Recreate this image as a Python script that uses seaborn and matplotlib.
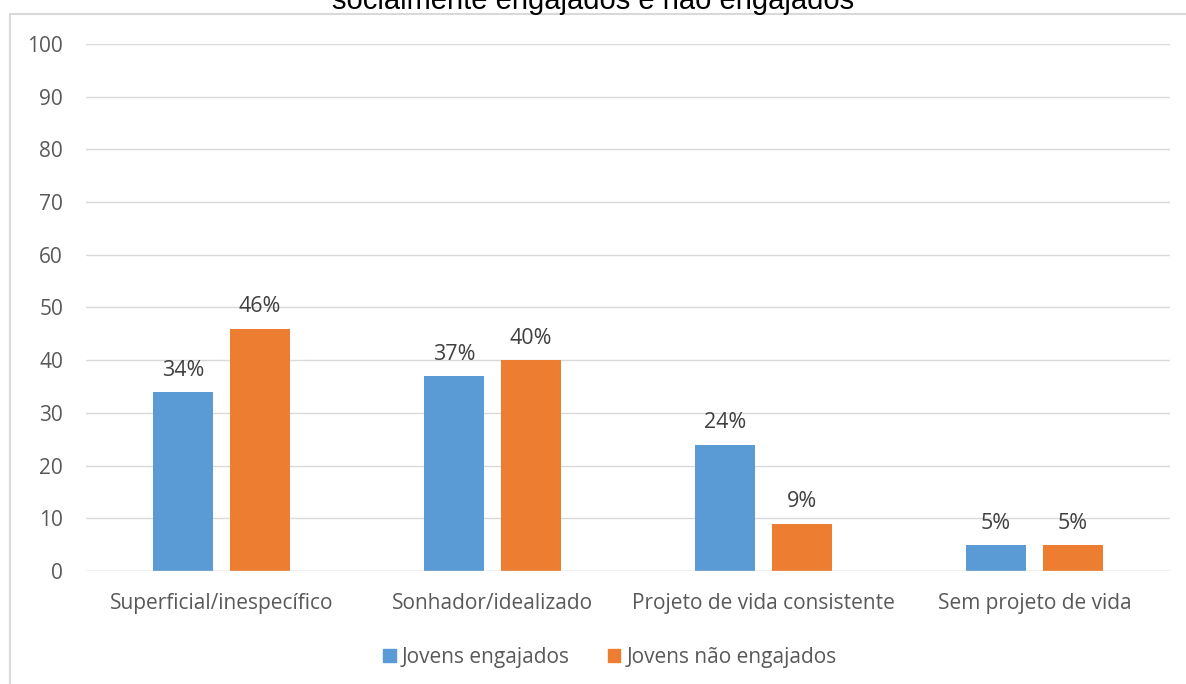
import matplotlib
matplotlib.use("Agg")
import matplotlib.pyplot as plt
import matplotlib.patches as mpatches
import pandas as pd
import seaborn as sns

# --- data -------------------------------------------------------------
categories = ["Superficial/inespecífico", "Sonhador/idealizado",
              "Projeto de vida consistente", "Sem projeto de vida"]
series_names = ["Jovens engajados", "Jovens não engajados"]
engajados = [34, 37, 24, 5]
nao_engajados = [46, 40, 9, 5]
colors = ["#5b9bd5", "#ed7d31"]
title = "socialmente engajados e não engajados"

df = pd.DataFrame({
    "categoria": categories * 2,
    "grupo": [series_names[0]] * 4 + [series_names[1]] * 4,
    "valor": engajados + nao_engajados,
})

sns.set_theme(style="white")
plt.rcParams["font.family"] = ["Open Sans", "DejaVu Sans"]

fig = plt.figure(figsize=(11.86, 6.84), dpi=100)
ax = fig.add_axes([0.0725, 0.1652, 0.914, 0.7705])

sns.barplot(data=df, x="categoria", y="valor", hue="grupo", order=categories,
            hue_order=series_names, palette=colors, width=0.57, gap=0.225,
            saturation=1, linewidth=0, ax=ax, legend=False)

ax.set_ylim(0, 100)
ax.set_xlim(-0.5, 3.5)
ax.set_yticks(range(0, 101, 10))
ax.grid(axis="y", color="#d9d9d9", linewidth=1)
ax.set_axisbelow(True)
for s in ax.spines.values():
    s.set_visible(False)
ax.axhline(0, color="#d9d9d9", linewidth=1)
ax.set_xlabel("")
ax.set_ylabel("")
ax.tick_params(axis="both", length=0, labelsize=15, labelcolor="#595959")
ax.tick_params(axis="y", pad=16.5)
ax.tick_params(axis="x", pad=16)

# data labels
for cont in ax.containers:
    ax.bar_label(cont, labels=[f"{int(v)}%" for v in cont.datavalues],
                 padding=8, fontsize=15.5, color="#404040")

# legend
handles = [mpatches.Patch(color=c, label=n) for c, n in zip(colors, series_names)]
fig.legend(handles=handles, loc="center", bbox_to_anchor=(610 / 1186, 1 - 657 / 684),
           ncol=2, frameon=False, fontsize=15, handlelength=0.6, handleheight=0.6,
           handletextpad=0.3, columnspacing=1.8, labelcolor="#595959")

# outer border of the chart area
fig.add_artist(mpatches.Rectangle((10 / 1186, -0.1), 1.2, 1 - 14 / 684 + 0.1,
                                  transform=fig.transFigure, fill=False,
                                  edgecolor="#d9d9d9", linewidth=1.5))

# title (cropped at the top in the original)
fig.text(0.5, 1 - 9 / 684, title, ha="center", va="baseline", fontsize=21,
         family="Liberation Sans", color="#000000")

fig.savefig("out.png", dpi=100)
